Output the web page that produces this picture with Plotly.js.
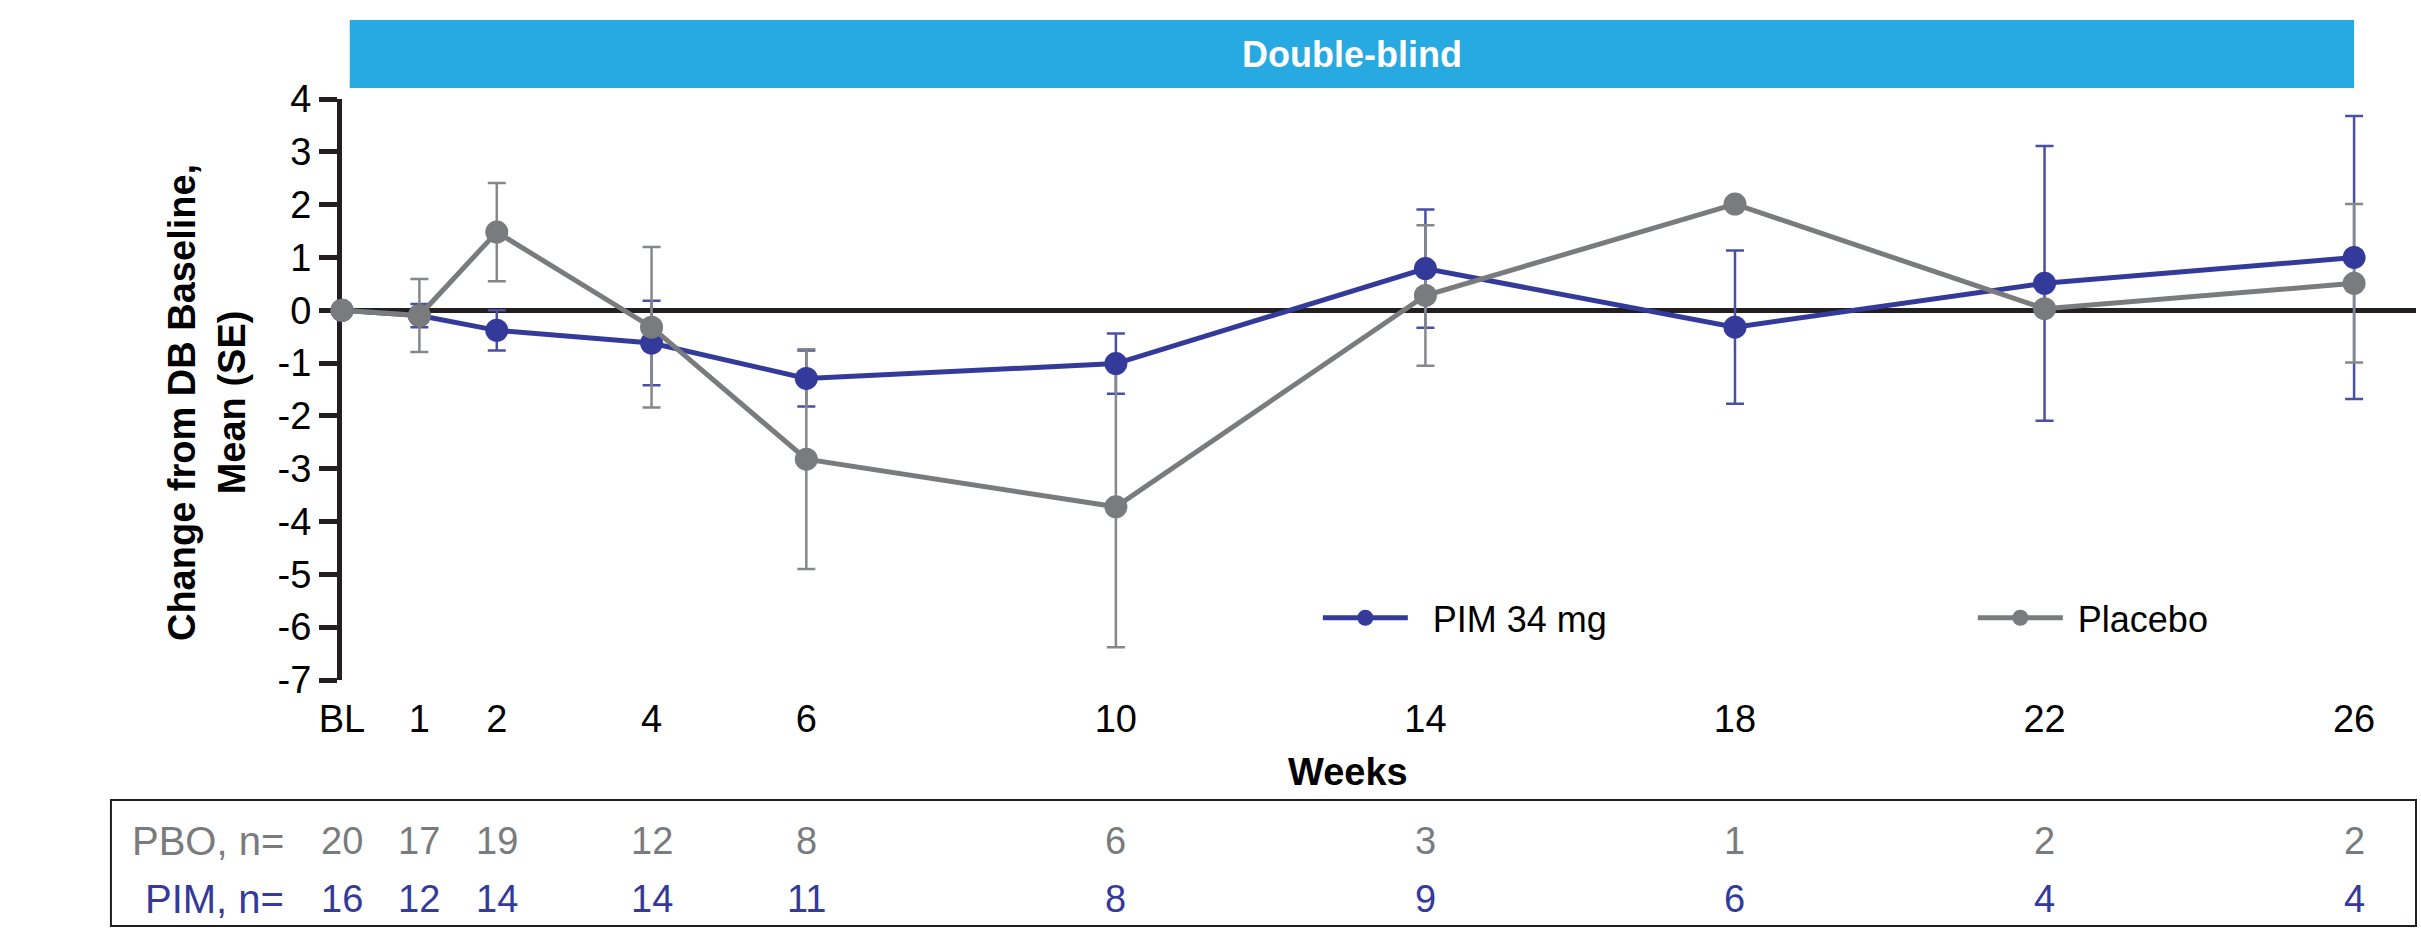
<!DOCTYPE html>
<html>
<head>
<meta charset="utf-8">
<script src="https://cdn.plot.ly/plotly-3.0.1.min.js"></script>
<style>html,body{margin:0;padding:0;background:#fff;}#chart{width:2421px;height:936px;}</style>
</head>
<body>
<div id="chart"></div>
<script>
// ---- data ----
const weeks = [0, 1, 2, 4, 6, 10, 14, 18, 22, 26];
const weekLabels = ["BL", "1", "2", "4", "6", "10", "14", "18", "22", "26"];
const yTickVals = [4, 3, 2, 1, 0, -1, -2, -3, -4, -5, -6, -7];
const yTickText = ["4", "3", "2", "1", "0", "-1", "-2", "-3", "-4", "-5", "-6", "-7"];
const pimMean = [0, -0.1, -0.38, -0.62, -1.29, -1.01, 0.79, -0.32, 0.51, 1.0];
const pimSE = [null, 0.22, 0.38, 0.8, 0.53, 0.57, 1.12, 1.45, 2.6, 2.68];
const pboMean = [0, -0.1, 1.48, -0.32, -2.82, -3.72, 0.28, 2.01, 0.03, 0.51];
const pboSE = [null, 0.69, 0.93, 1.52, 2.08, 2.66, 1.33, null, null, 1.5];
const pboN = [20, 17, 19, 12, 8, 6, 3, 1, 2, 2];
const pimN = [16, 12, 14, 14, 11, 8, 9, 6, 4, 4];
const seriesNames = ["PIM 34 mg", "Placebo"];
const rowLabels = ["PBO, n=", "PIM, n="];

const BLUE = "#343a9a";
const BLUE_ERR = "#4a4fa6";
const GRAY = "#797b7d";
const GRAY_ERR = "#85878a";
const FONT = "Liberation Sans, Arial, sans-serif";

function errTrace(y, se, color) {
  return {
    x: weeks, y: y, type: "scatter", mode: "markers",
    marker: {size: 1, color: "rgba(0,0,0,0)"},
    error_y: {type: "data", array: se, visible: true, color: color, thickness: 2.5, width: 9},
    showlegend: false, hoverinfo: "skip", cliponaxis: false
  };
}
const traces = [
  errTrace(pimMean, pimSE, BLUE_ERR),
  errTrace(pboMean, pboSE, GRAY_ERR),
  {x: weeks, y: pimMean, type: "scatter", mode: "lines+markers", name: "\u00A0\u00A0" + seriesNames[0],
   line: {color: BLUE, width: 5}, marker: {color: BLUE, size: 23}, cliponaxis: false},
  {x: weeks, y: pboMean, type: "scatter", mode: "lines+markers", name: "\u00A0" + seriesNames[1],
   line: {color: GRAY, width: 5}, marker: {color: GRAY, size: 23}, cliponaxis: false}
];

const annotations = [];
annotations.push({xref: "x", yref: "paper", x: 13.05, y: 1.077, text: "<b>Double-blind</b>",
  showarrow: false, font: {family: FONT, size: 36, color: "#ffffff"}, xanchor: "center", yanchor: "middle"});
annotations.push({xref: "paper", yref: "paper", x: -0.065, y: 0.477, textangle: -90,
  text: "<b>Change from DB Baseline,<br>Mean (SE)</b>", showarrow: false,
  font: {family: FONT, size: 38, color: "#000"}, xanchor: "center", yanchor: "middle"});
annotations.push({xref: "x", yref: "paper", x: 13, y: -0.158, text: "<b>Weeks</b>", showarrow: false,
  font: {family: FONT, size: 38, color: "#000"}, xanchor: "center", yanchor: "middle"});
const rowY = [-0.277, -0.377];
const rowColor = [GRAY, BLUE];
const rowVals = [pboN, pimN];
for (let r = 0; r < 2; r++) {
  annotations.push({xref: "paper", yref: "paper", x: -0.027, y: rowY[r], text: rowLabels[r],
    showarrow: false, xanchor: "right", yanchor: "middle",
    font: {family: FONT, size: 40, color: rowColor[r]}});
  for (let i = 0; i < weeks.length; i++) {
    annotations.push({xref: "x", yref: "paper", x: weeks[i], y: rowY[r], text: String(rowVals[r][i]),
      showarrow: false, xanchor: "center", yanchor: "middle",
      font: {family: FONT, size: 38, color: rowColor[r]}});
  }
}

const layout = {
  width: 2421, height: 936,
  margin: {l: 342, r: 5, t: 99, b: 256, autoexpand: false},
  paper_bgcolor: "#fff", plot_bgcolor: "#fff",
  font: {family: FONT, size: 36, color: "#000"},
  showlegend: true,
  legend: {orientation: "h", x: 0.4705, y: 0.107, xanchor: "left", yanchor: "middle",
    font: {family: FONT, size: 36, color: "#000"}, itemwidth: 85, entrywidth: 555,
    bgcolor: "rgba(0,0,0,0)"},
  xaxis: {range: [0, 26.8], tickvals: weeks, ticktext: weekLabels, showgrid: false,
    zeroline: false, showline: false, ticks: "outside", ticklen: 5, tickcolor: "rgba(0,0,0,0)",
    tickfont: {family: FONT, size: 38, color: "#000"}, fixedrange: true},
  yaxis: {range: [-7, 4], tickvals: yTickVals, ticktext: yTickText, showgrid: false, zeroline: true, zerolinewidth: 5,
    zerolinecolor: "#231f20", showline: true, linewidth: 5, linecolor: "#231f20",
    ticks: "outside", ticklen: 18, tickwidth: 5, tickcolor: "#231f20", layer: "below traces",
    tickfont: {family: FONT, size: 38, color: "#000"}, fixedrange: true},
  shapes: [
    {type: "rect", xref: "x", yref: "paper", x0: 0.1, x1: 26, y0: 1.019, y1: 1.136,
     fillcolor: "#27a9e1", line: {width: 0}, layer: "below"},
    {type: "rect", xref: "paper", yref: "paper", x0: -0.1114, x1: 1.0, y0: -0.2065, y1: -0.4234,
     fillcolor: "rgba(0,0,0,0)", line: {width: 2, color: "#231f20"}}
  ],
  annotations: annotations
};

Plotly.newPlot("chart", traces, layout, {displayModeBar: false, staticPlot: true});
</script>
</body>
</html>
